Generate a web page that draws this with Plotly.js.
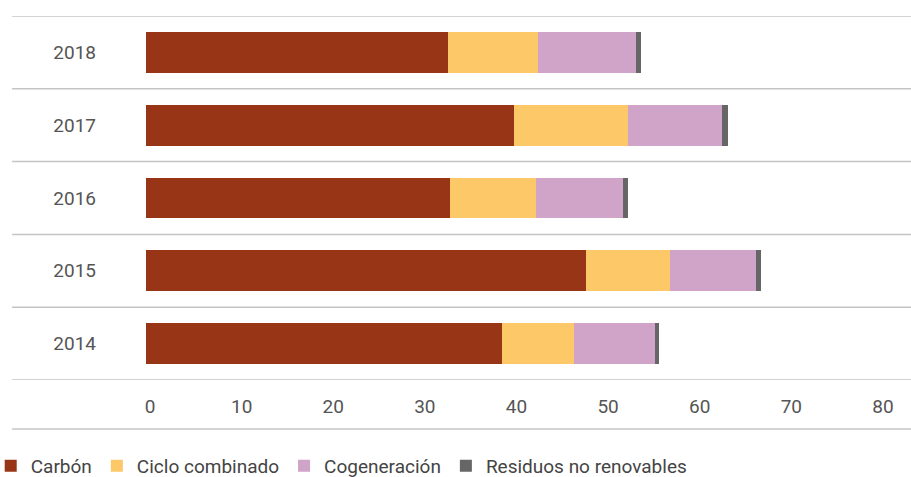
<!DOCTYPE html>
<html>
<head>
<meta charset="utf-8">
<script src="https://cdn.plot.ly/plotly-3.0.1.min.js"></script>
<style>
  html, body { margin: 0; padding: 0; background: #ffffff; }
  #chart { width: 911px; height: 477px; }
</style>
</head>
<body>
<div id="chart"></div>
<script>
// Years (bottom to top) and generation by source
const years = ['2014', '2015', '2016', '2017', '2018'];
const carbon = [38.9, 48.0, 33.2, 40.2, 33.0];
const cicloCombinado = [7.8, 9.2, 9.4, 12.4, 9.8];
const cogeneracion = [8.9, 9.4, 9.5, 10.3, 10.7];
const residuos = [0.35, 0.55, 0.55, 0.6, 0.55];

const seriesNames = ['Carbón', 'Ciclo combinado', 'Cogeneración', 'Residuos no renovables'];
const seriesColors = ['#983516', '#fcc868', '#d0a3c9', '#666666'];
const xTicks = [0, 10, 20, 30, 40, 50, 60, 70, 80];

const FONT = 'Roboto, "Open Sans", sans-serif';
const GRID = '#c4c4c4';

const traces = [carbon, cicloCombinado, cogeneracion, residuos].map((vals, i) => ({
  type: 'bar',
  orientation: 'h',
  x: vals,
  y: years,
  name: seriesNames[i],
  marker: { color: seriesColors[i], line: { width: 0 } },
  hoverinfo: 'skip'
}));

// Separator lines between the year rows, running past the label column
const shapes = [];
for (let i = 0; i <= years.length; i++) {
  shapes.push({
    type: 'line', xref: 'paper', yref: 'y',
    x0: -0.175, x1: 1, y0: i - 0.5, y1: i - 0.5,
    line: { color: GRID, width: 1.5 }
  });
}
// Rule under the value labels
shapes.push({
  type: 'line', xref: 'paper', yref: 'paper',
  x0: -0.175, x1: 1, y0: -0.1346, y1: -0.1346,
  line: { color: GRID, width: 1.5 }
});

const layout = {
  width: 911,
  height: 477,
  margin: { l: 146, r: 0, t: 16, b: 97, autoexpand: false },
  paper_bgcolor: '#ffffff',
  plot_bgcolor: '#ffffff',
  barmode: 'stack',
  bargap: 0.44,
  font: { family: FONT, size: 19, color: '#555555' },
  xaxis: {
    range: [0, 83.5],
    tickvals: xTicks,
    ticktext: xTicks.map(String),
    showgrid: false,
    zeroline: false,
    showline: false,
    ticks: '',
    ticklabelstandoff: 13,
    ticklabelshift: 4,
    tickfont: { family: FONT, size: 19, color: '#555555' },
    fixedrange: true
  },
  yaxis: {
    type: 'category',
    categoryorder: 'array',
    categoryarray: years,
    range: [-0.5, 4.5],
    showgrid: false,
    zeroline: false,
    showline: false,
    ticks: '',
    ticklabelstandoff: 49,
    tickfont: { family: FONT, size: 19, color: '#555555' },
    fixedrange: true
  },
  shapes: shapes,
  showlegend: true,
  legend: {
    orientation: 'h',
    x: -0.203,
    xanchor: 'left',
    y: -0.184,
    yanchor: 'top',
    font: { family: FONT, size: 19, color: '#444444' },
    traceorder: 'normal',
    bgcolor: 'rgba(0,0,0,0)'
  }
};

Plotly.newPlot('chart', traces, layout, { displayModeBar: false, staticPlot: true });
</script>
</body>
</html>
